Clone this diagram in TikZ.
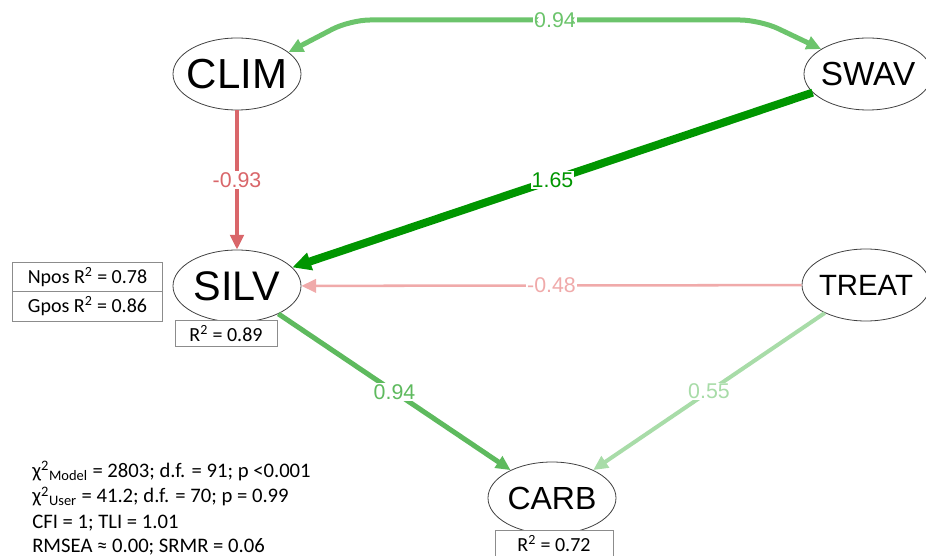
\documentclass[tikz,border=0pt]{standalone}
\usepackage{fontspec}
\setmainfont{Liberation Sans}
\newfontfamily\calibrifont{Carlito}
\usetikzlibrary{arrows.meta,shapes.geometric}
\definecolor{covgreen}{RGB}{108,196,108}
\definecolor{negred}{RGB}{217,102,106}
\definecolor{stronggreen}{RGB}{0,150,0}
\definecolor{palered}{RGB}{240,170,170}
\definecolor{midgreen}{RGB}{94,186,94}
\definecolor{palegreen}{RGB}{168,220,168}
\begin{document}
\begin{tikzpicture}[x=0.75pt,y=-0.75pt,
 latent/.style={shape=ellipse,draw=black!75,fill=white,line width=0.6pt,minimum width=96pt,minimum height=54pt,inner sep=0pt},
 rbox/.style={shape=rectangle,draw=black!45,fill=white,line width=0.6pt,inner sep=0pt,font=\calibrifont\fontsize{15}{15}\selectfont},
 elabel/.style={fill=white,inner sep=0.8pt,font=\fontsize{16}{16}\selectfont},
 stats/.style={anchor=base west,inner sep=0pt,font=\calibrifont\fontsize{15.5}{15.5}\selectfont},
 link/.style={-{Triangle[length=11pt,width=10pt]}}]
 \useasboundingbox (0,0) rectangle (926,556);
 % latent variables
 \node (clim) at (237,74) [latent,font=\fontsize{31.5}{31.5}\selectfont] {\makebox[0pt]{CLIM}};
 \node (swav) at (868,74) [latent,font=\fontsize{25}{25}\selectfont] {\makebox[0pt]{SWAV}};
 \node (silv) at (237,286) [latent,font=\fontsize{31}{31}\selectfont] {\makebox[0pt]{SILV}};
 \node (treat) at (866,285) [latent,font=\fontsize{22}{22}\selectfont] {\makebox[0pt]{TREAT}};
 \node (carb) at (552,498) [latent,font=\fontsize{24}{24}\selectfont] {\makebox[0pt]{CARB}};
 % paths
 \draw[{Triangle[length=11pt,width=10pt]}-{Triangle[length=11pt,width=10pt]},draw=covgreen,line width=3.75pt,rounded corners=15pt]
  (clim.23) -- (350,20) -- node[elabel,text=covgreen] {0.94} (760,20) -- (swav.152);
 \draw[link,draw=negred,line width=3pt] (clim) -- node[elabel,text=negred] {-0.93} (silv);
 \draw[-{Triangle[length=14pt,width=13pt]},draw=stronggreen,line width=6pt] (swav) -- node[elabel,text=stronggreen] {1.65} (silv);
 \draw[link,draw=palered,line width=1.9pt] (treat) -- node[elabel,text=palered] {-0.48} (silv);
 \draw[link,draw=midgreen,line width=3.75pt] (silv) -- node[elabel,text=midgreen] {0.94} (carb);
 \draw[link,draw=palegreen,line width=3pt] (treat) -- node[elabel,text=palegreen] {0.55} (carb);
 % r-squared
 \node (r2 npos) at (87.5,277) [rbox,minimum width=113pt,minimum height=22.5pt] {Npos R\textsuperscript{2} = 0.78};
 \node (r2 gpos) at (87.5,306.5) [rbox,minimum width=113pt,minimum height=22pt] {Gpos R\textsuperscript{2} = 0.86};
 \node (r2 silv) at (226,333.5) [rbox,minimum width=76.5pt,minimum height=19pt] {R\textsuperscript{2} = 0.89};
 \node (r2 carb) at (554,544) [rbox,minimum width=88.5pt,minimum height=21pt] {R\textsuperscript{2} = 0.72};
 % fit
 \node (fit model) at (32,477) [stats] {χ\textsuperscript{2}\textsubscript{Model} = 2803; d.f. = 91; p <0.001};
 \node (fit user) at (32,503) [stats] {χ\textsuperscript{2}\textsubscript{User} = 41.2; d.f. = 70; p = 0.99};
 \node (fit cfi) at (32,528) [stats] {CFI = 1; TLI = 1.01};
 \node (fit rmsea) at (32,552) [stats] {RMSEA ≈ 0.00; SRMR = 0.06};
\end{tikzpicture}
\end{document}
